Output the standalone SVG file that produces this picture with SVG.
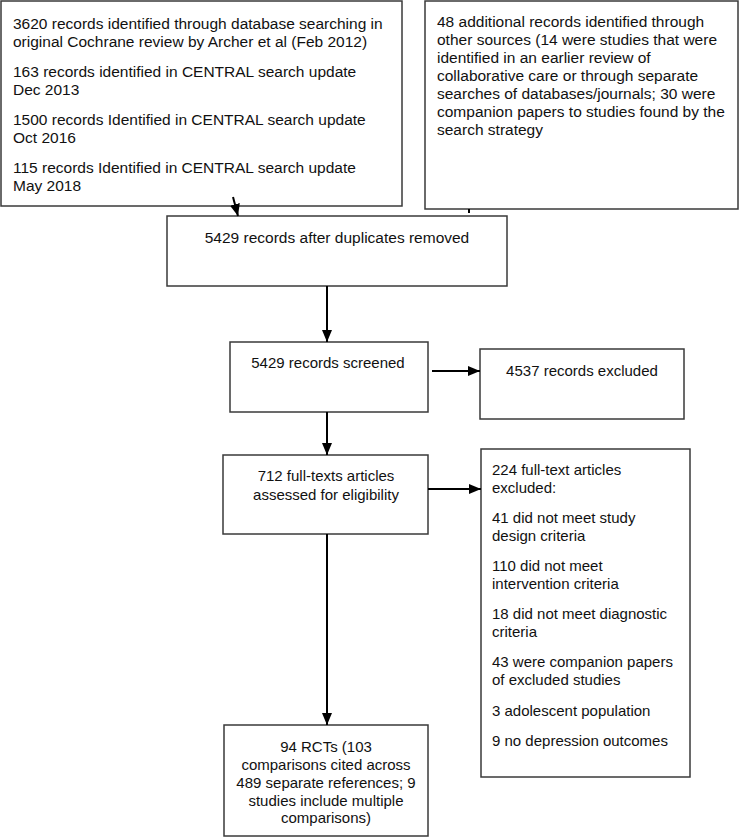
<svg xmlns="http://www.w3.org/2000/svg" width="740" height="837" viewBox="0 0 740 837">
<style>
 .box{fill:#fff;stroke:#3a3a3a;stroke-width:1.5}
 text{font-family:"Liberation Sans",Arial,sans-serif;font-size:15px;fill:#111}
 .big text{font-size:15.5px}
 .c{text-anchor:middle}
 .edge{stroke:#000;stroke-width:2;fill:none}
</style>
<defs>
 <marker id="ah" markerUnits="userSpaceOnUse" markerWidth="12" markerHeight="12" viewBox="0 0 12 12" refX="12" refY="6" orient="auto"><path d="M0,1 L12,6 L0,11 Z" fill="#000"/></marker>
</defs>
<rect width="740" height="837" fill="#fff"/>
<g id="n1" class="big">
 <rect class="box" x="1" y="1" width="401" height="205"/>
 <text x="13" y="29">3620 records identified through database searching in</text>
 <text x="13" y="47">original Cochrane review by Archer et al (Feb 2012)</text>
 <text x="13" y="77">163 records identified in CENTRAL search update</text>
 <text x="13" y="95">Dec 2013</text>
 <text x="13" y="125">1500 records Identified in CENTRAL search update</text>
 <text x="13" y="143">Oct 2016</text>
 <text x="13" y="173">115 records Identified in CENTRAL search update</text>
 <text x="13" y="191">May 2018</text>
</g>
<g id="n2" class="big">
 <rect class="box" x="425" y="1" width="313" height="208"/>
 <text x="437" y="27">48 additional records identified through</text>
 <text x="437" y="45">other sources (14 were studies that were</text>
 <text x="437" y="63">identified in an earlier review of</text>
 <text x="437" y="81">collaborative care or through separate</text>
 <text x="437" y="99">searches of databases/journals; 30 were</text>
 <text x="437" y="117">companion papers to studies found by the</text>
 <text x="437" y="135">search strategy</text>
</g>
<g id="n3" class="big">
 <rect class="box" x="167" y="216" width="340" height="70"/>
 <text class="c" x="337" y="243">5429 records after duplicates removed</text>
</g>
<g id="n4">
 <rect class="box" x="230" y="342" width="198" height="70"/>
 <text class="c" x="328" y="368">5429 records screened</text>
</g>
<g id="n5">
 <rect class="box" x="480" y="349" width="204" height="70"/>
 <text class="c" x="582" y="376">4537 records excluded</text>
</g>
<g id="n6">
 <rect class="box" x="223" y="455" width="205" height="79"/>
 <text class="c" x="326" y="481">712 full-texts articles</text>
 <text class="c" x="326" y="500">assessed for eligibility</text>
</g>
<g id="n7">
 <rect class="box" x="481" y="449" width="209" height="328"/>
 <text x="492" y="475">224 full-text articles</text>
 <text x="492" y="493">excluded:</text>
 <text x="492" y="523">41 did not meet study</text>
 <text x="492" y="541">design criteria</text>
 <text x="492" y="571">110 did not meet</text>
 <text x="492" y="589">intervention criteria</text>
 <text x="492" y="619">18 did not meet diagnostic</text>
 <text x="492" y="637">criteria</text>
 <text x="492" y="667">43 were companion papers</text>
 <text x="492" y="685">of excluded studies</text>
 <text x="492" y="716">3 adolescent population</text>
 <text x="492" y="746">9 no depression outcomes</text>
</g>
<g id="n8">
 <rect class="box" x="224" y="725" width="204" height="111"/>
 <text class="c" x="326" y="752">94 RCTs (103</text>
 <text class="c" x="326" y="770">comparisons cited across</text>
 <text class="c" x="326" y="788">489 separate references; 9</text>
 <text class="c" x="326" y="806">studies include multiple</text>
 <text class="c" x="326" y="823">comparisons)</text>
</g>
<g id="edges">
 <line class="edge" x1="233" y1="197" x2="238" y2="216" marker-end="url(#ah)"/>
 <line class="edge" x1="469" y1="209" x2="469" y2="213" stroke-width="1.5"/>
 <line class="edge" x1="327" y1="286" x2="327" y2="342" marker-end="url(#ah)"/>
 <line class="edge" x1="432" y1="371" x2="480" y2="371" marker-end="url(#ah)"/>
 <line class="edge" x1="327" y1="412" x2="327" y2="455" marker-end="url(#ah)"/>
 <line class="edge" x1="428" y1="489" x2="481" y2="489" marker-end="url(#ah)"/>
 <line class="edge" x1="327" y1="534" x2="327" y2="725" marker-end="url(#ah)"/>
</g>
</svg>
